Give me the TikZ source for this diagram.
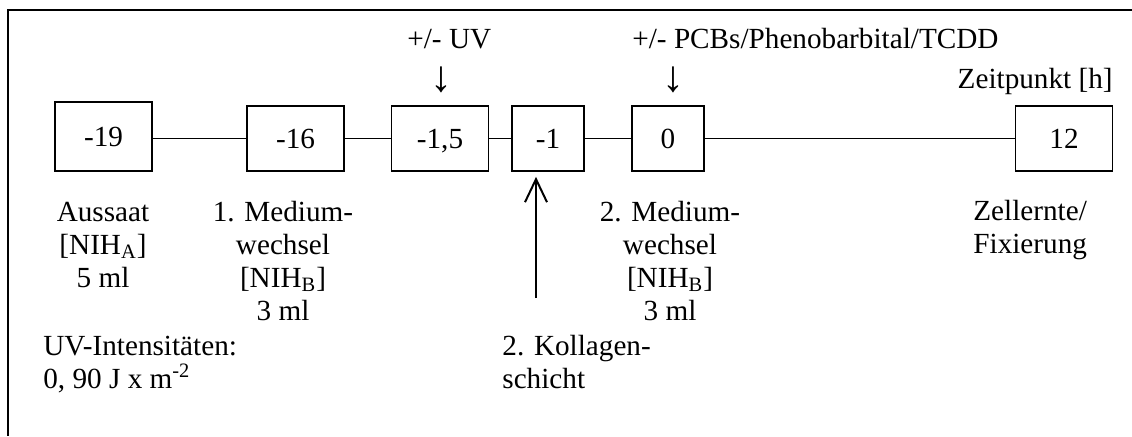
\documentclass[tikz,border=0pt]{standalone}
\usepackage{fontspec}
\setmainfont{Liberation Serif}
\usetikzlibrary{arrows.meta}

\begin{document}
\begin{tikzpicture}[
  x=0.5pt, y=-0.5pt,
  font=\fontsize{14.6}{16.5}\selectfont,
  tbox/.style={draw, line width=0.85pt, minimum width=48.5pt,
               minimum height=32.5pt, inner sep=0pt,
               text height=10pt, text depth=0pt},
  narrow/.style={tbox, minimum width=36pt},
  lbl/.style={inner sep=0pt, align=center, anchor=base},
  lbll/.style={inner sep=0pt, align=left, anchor=base west},
  link/.style={line width=0.7pt},
  uparr/.style={-{Straight Barb[length=11.5pt,width=11pt]}, line width=1pt},
  frame/.style={line width=1pt},
]
\useasboundingbox (0,0) rectangle (1132,436);

% open frame (top and left edge)
\draw[frame] (1132,10) -- (8,10) -- (8,436);

% time points
\node[tbox, minimum height=34.5pt] (b19) at (103.5,136.7) {-19};
\node[tbox]   (b16) at (295.5,138.5) {-16};
\node[tbox]   (b15) at (440,138.5)   {-1,5};
\node[narrow] (b1)  at (548,138.5)   {-1};
\node[narrow] (b0)  at (668,138.5)   {0};
\node[tbox]   (b12) at (1064,138.5)  {12};

\draw[link] (b16.west) -- (b16.west -| b19.east);
\draw[link] (b16) -- (b15);
\draw[link] (b15) -- (b1);
\draw[link] (b1) -- (b0);
\draw[link] (b0) -- (b12);

% treatments above (base = last line)
\node[lbll] (uvlbl) at (407,91)
  {+/- UV\\[5pt]\hspace*{17pt}\makebox[0pt]{\scalebox{1.5}{↓}}};
\node[lbll] (pcblbl) at (632,91)
  {+/- PCBs/Phenobarbital/TCDD\\[5pt]\hspace*{20.5pt}\makebox[0pt]{\scalebox{1.5}{↓}}};
\node[inner sep=0pt, anchor=base east] (zeit) at (1113,88) {Zeitpunkt [h]};

% steps below (base = last line)
\node[lbl] (aus)  at (103,287) {Aussaat\\{}[NIH\textsubscript{A}]\\5 ml};
\node[lbl] (med1) at (283,320) {1. Medium-\\wechsel\\{}[NIH\textsubscript{B}]\\3 ml};
\node[lbl] (med2) at (670,320) {2. Medium-\\wechsel\\{}[NIH\textsubscript{B}]\\3 ml};
\node[lbll] (zell) at (973,253) {Zellernte/\\Fixierung};
\node[lbll] (uvint) at (43,388)
  {UV-Intensitäten:\\0, 90 J x m\textsuperscript{-2}};
\node[lbll] (kol) at (502,388) {2. Kollagen-\\schicht};

% collagen layer
\coordinate (kolpt) at (536,298);
\draw[uparr, shorten >=2.5pt] (kolpt) -- (kolpt |- b1.south);
\end{tikzpicture}
\end{document}
